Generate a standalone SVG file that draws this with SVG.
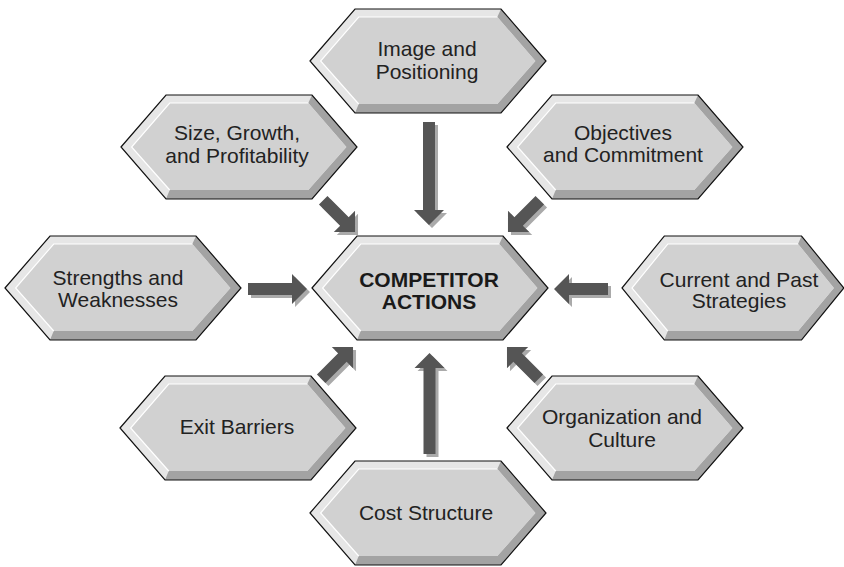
<svg xmlns="http://www.w3.org/2000/svg" xmlns:xlink="http://www.w3.org/1999/xlink" width="844" height="567" viewBox="0 0 844 567">
<style>
.t{font-family:"Liberation Sans",Arial,Helvetica,sans-serif;font-size:21px;fill:#222;text-anchor:middle}
.b{font-weight:bold;fill:#1a1a1a}
.ar{fill:#555555}
.sh{fill:#aaaaaa}
</style>
<defs>
<g id="hex">
<polygon points="0,52 45,0 191,0 236,52 191,104 45,104" fill="#e6e6e6"/>
<polygon points="191,0 236,52 191,104 45,104 48.7,95 187.3,95 225.4,52 187.3,8" fill="#a3a3a3"/>
<polygon points="10.6,52 48.7,8 187.3,8 225.4,52 187.3,95 48.7,95" fill="#d1d1d1"/>
<polyline points="48.7,95 10.6,52 48.7,8 187.3,8" fill="none" stroke="#ffffff" stroke-width="1.2"/>
<polygon points="0,52 45,0 191,0 236,52 191,104 45,104" fill="none" stroke="#111111" stroke-width="1.2" stroke-linejoin="miter"/>
</g>
<polygon id="aV1" points="0,-6 88,-6 88,-15 103,0 88,15 88,6 0,6"/>
<polygon id="aV2" points="0,-6 86,-6 86,-15 101,0 86,15 86,6 0,6"/>
<polygon id="aH1" points="0,-6 44,-6 44,-15 59,0 44,15 44,6 0,6"/>
<polygon id="aH2" points="0,-6 39,-6 39,-15 54,0 39,15 39,6 0,6"/>
<polygon id="aD" points="0,-6 30,-6 30,-15 45,0 30,15 30,6 0,6"/>
</defs>

<g id="connectors">
<g id="shadows" class="sh" transform="translate(3,3)">
<use xlink:href="#aV1" href="#aV1" transform="translate(429,122) rotate(90)"/>
<use xlink:href="#aV2" href="#aV2" transform="translate(429.5,454) rotate(-90)"/>
<use xlink:href="#aH1" href="#aH1" transform="translate(248,289)"/>
<use xlink:href="#aH2" href="#aH2" transform="translate(608,289) rotate(180)"/>
<use xlink:href="#aD" href="#aD" transform="translate(323.2,200.2) rotate(45)"/>
<use xlink:href="#aD" href="#aD" transform="translate(539.8,200.2) rotate(135)"/>
<use xlink:href="#aD" href="#aD" transform="translate(321.2,378.8) rotate(-45)"/>
<use xlink:href="#aD" href="#aD" transform="translate(538.8,378.8) rotate(-135)"/>
</g>
<g id="arrows" class="ar">
<use xlink:href="#aV1" href="#aV1" transform="translate(429,122) rotate(90)"/>
<use xlink:href="#aV2" href="#aV2" transform="translate(429.5,454) rotate(-90)"/>
<use xlink:href="#aH1" href="#aH1" transform="translate(248,289)"/>
<use xlink:href="#aH2" href="#aH2" transform="translate(608,289) rotate(180)"/>
<use xlink:href="#aD" href="#aD" transform="translate(323.2,200.2) rotate(45)"/>
<use xlink:href="#aD" href="#aD" transform="translate(539.8,200.2) rotate(135)"/>
<use xlink:href="#aD" href="#aD" transform="translate(321.2,378.8) rotate(-45)"/>
<use xlink:href="#aD" href="#aD" transform="translate(538.8,378.8) rotate(-135)"/>
</g>
</g>

<g id="image-positioning">
<use xlink:href="#hex" href="#hex" transform="translate(310,9)"/>
<text class="t" x="427" y="56">Image and</text>
<text class="t" x="427" y="79">Positioning</text>
</g>
<g id="size-growth">
<use xlink:href="#hex" href="#hex" transform="translate(121,95)"/>
<text class="t" x="237" y="140">Size, Growth,</text>
<text class="t" x="237" y="163">and Profitability</text>
</g>
<g id="objectives">
<use xlink:href="#hex" href="#hex" transform="translate(507,95)"/>
<text class="t" x="623" y="140">Objectives</text>
<text class="t" x="623" y="162">and Commitment</text>
</g>
<g id="strengths">
<use xlink:href="#hex" href="#hex" transform="translate(5,236)"/>
<text class="t" x="118" y="285">Strengths and</text>
<text class="t" x="118" y="307">Weaknesses</text>
</g>
<g id="competitor-actions">
<use xlink:href="#hex" href="#hex" transform="translate(312,236)"/>
<text class="t b" x="429" y="287">COMPETITOR</text>
<text class="t b" x="429" y="309">ACTIONS</text>
</g>
<g id="current-past">
<use xlink:href="#hex" href="#hex" transform="translate(622,236) scale(0.94,1)"/>
<text class="t" x="739" y="287">Current and Past</text>
<text class="t" x="739" y="308">Strategies</text>
</g>
<g id="exit-barriers">
<use xlink:href="#hex" href="#hex" transform="translate(120,376)"/>
<text class="t" x="237" y="434">Exit Barriers</text>
</g>
<g id="organization">
<use xlink:href="#hex" href="#hex" transform="translate(507,376)"/>
<text class="t" x="622" y="424">Organization and</text>
<text class="t" x="622" y="447">Culture</text>
</g>
<g id="cost-structure">
<use xlink:href="#hex" href="#hex" transform="translate(310,461)"/>
<text class="t" x="426" y="520">Cost Structure</text>
</g>
</svg>
